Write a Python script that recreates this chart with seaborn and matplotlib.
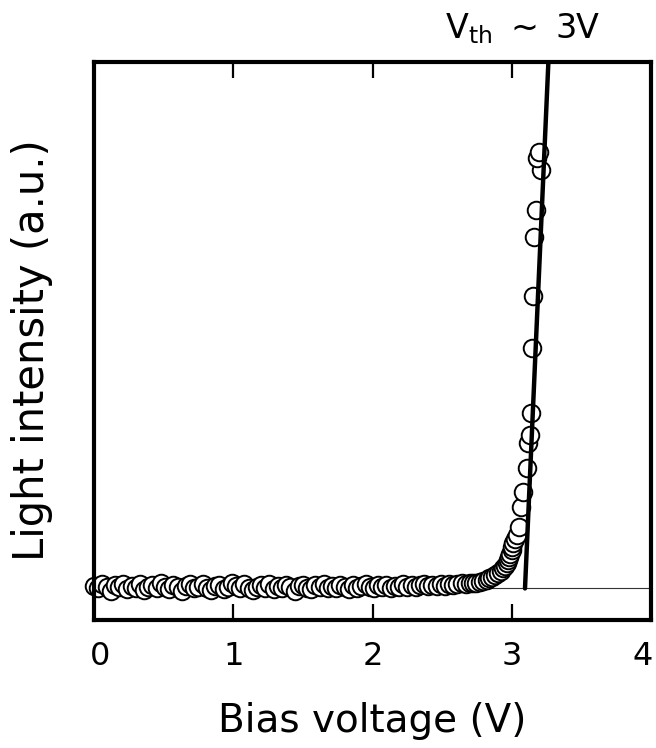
import matplotlib
matplotlib.use("Agg")
import matplotlib.pyplot as plt
import matplotlib.transforms as mtransforms
import seaborn as sns
import pandas as pd

# Bias sweep below threshold (V) and measured light intensity (a.u.)
bias_low = [
    0.00, 0.03, 0.06, 0.09, 0.12, 0.15, 0.18, 0.21, 0.24, 0.27,
    0.30, 0.33, 0.36, 0.39, 0.42, 0.45, 0.48, 0.51, 0.54, 0.57,
    0.60, 0.63, 0.66, 0.69, 0.72, 0.75, 0.78, 0.81, 0.84, 0.87,
    0.90, 0.93, 0.96, 0.99, 1.02, 1.05, 1.08, 1.11, 1.14, 1.17,
    1.20, 1.23, 1.26, 1.29, 1.32, 1.35, 1.38, 1.41, 1.44, 1.47,
    1.50, 1.53, 1.56, 1.59, 1.62, 1.65, 1.68, 1.71, 1.74, 1.77,
    1.80, 1.83, 1.86, 1.89, 1.92, 1.95, 1.98, 2.01, 2.04, 2.07,
    2.10, 2.13, 2.16, 2.19, 2.22, 2.25, 2.28, 2.31, 2.34, 2.37,
    2.40, 2.43, 2.46, 2.49, 2.52, 2.55, 2.58, 2.61, 2.64, 2.67,
    2.70,
]
light_low = [
    0.05, 0.00, 0.08, 0.02, -0.04, 0.06, 0.03, 0.09, -0.02, 0.05,
    0.01, 0.08, -0.03, 0.03, 0.07, 0.00, 0.10, 0.03, -0.02, 0.06,
    0.02, -0.04, 0.05, 0.08, 0.00, 0.03, 0.09, 0.01, -0.03, 0.05,
    0.07, -0.01, 0.03, 0.10, 0.04, 0.00, 0.08, 0.01, -0.03, 0.03,
    0.06, 0.01, 0.09, -0.02, 0.05, 0.00, 0.06, 0.02, -0.04, 0.04,
    0.07, 0.01, -0.02, 0.06, 0.02, 0.08, 0.00, 0.05, 0.01, 0.07,
    0.03, -0.02, 0.06, 0.01, 0.04, 0.08, 0.02, 0.00, 0.06, 0.03,
    0.07, 0.01, 0.05, 0.02, 0.08, 0.03, 0.07, 0.02, 0.06, 0.09,
    0.04, 0.07, 0.05, 0.08, 0.05, 0.09, 0.06, 0.08, 0.10, 0.08,
    0.10,
]

# Turn-on region
bias_high = [
    2.72, 2.74, 2.77, 2.79, 2.82, 2.84, 2.86, 2.88, 2.90, 2.92,
    2.94, 2.95, 2.963, 2.97, 2.982, 2.99, 2.999, 3.005, 3.010, 3.02,
    3.035, 3.054, 3.066, 3.082, 3.107, 3.119, 3.131, 3.140, 3.147, 3.155,
    3.162, 3.172, 3.208, 3.183, 3.198,
]
light_high = [
    0.10, 0.11, 0.13, 0.14, 0.16, 0.19, 0.22, 0.25, 0.29, 0.34,
    0.39, 0.43, 0.48, 0.54, 0.60, 0.66, 0.73, 0.79, 0.86, 0.93,
    1.01, 1.17, 1.55, 1.84, 2.28, 2.76, 2.91, 3.34, 4.56, 5.56,
    6.67, 7.19, 7.95, 8.17, 8.30,
]

# Linear extrapolation of the emission onset
fit_bias = [3.095, 3.263]
fit_light = [0.0, 10.0]

x_ticks = [0, 1, 2, 3, 4]
x_ticklabels = ["0", "1", "2", "3", "4"]

df = pd.DataFrame({
    "bias": bias_low + bias_high,
    "light": light_low + light_high,
})
fit = pd.DataFrame({"bias": fit_bias, "light": fit_light})

sns.set_style("white")
plt.rcParams["font.family"] = ["DejaVu Sans"]
plt.rcParams["mathtext.fontset"] = "dejavusans"
plt.rcParams["text.color"] = "black"
plt.rcParams["axes.labelcolor"] = "black"
plt.rcParams["xtick.color"] = "black"
plt.rcParams["ytick.color"] = "black"

fig = plt.figure(figsize=(6.56, 7.48), dpi=100)
ax = fig.add_axes([0.1433, 0.1711, 0.8491, 0.7460])

# zero-intensity reference line
ax.axhline(0, color="#333333", lw=0.8, zorder=1)

sns.scatterplot(data=df, x="bias", y="light", ax=ax, marker="o", s=160,
                facecolor="white", edgecolor="black", linewidth=1.4,
                zorder=2, clip_on=False, legend=False)

sns.lineplot(data=fit, x="bias", y="light", ax=ax, color="black", lw=3.2,
             sort=False, zorder=3, estimator=None)

ax.set_xlim(0, 4)
ax.set_ylim(-0.6, 10)

ax.set_xticks(x_ticks)
ax.set_xticklabels(x_ticklabels)
ax.set_yticks([])
ax.tick_params(axis="x", which="both", direction="in", top=True, bottom=True,
               length=11.5, width=1.6, pad=15, labelsize=23,
               color="black", labelcolor="black")

# nudge the end labels inward
for lab, dx in ((ax.get_xticklabels()[0], 6), (ax.get_xticklabels()[-1], -8)):
    lab.set_transform(lab.get_transform() +
                      mtransforms.ScaledTranslation(dx / 100, 0, fig.dpi_scale_trans))

for sp in ax.spines.values():
    sp.set_visible(True)
    sp.set_linewidth(3.0)
    sp.set_color("black")

ax.set_xlabel("Bias voltage (V)", fontsize=28, labelpad=22)
ax.set_ylabel("Light intensity (a.u.)", fontsize=30)
ax.yaxis.set_label_coords(-0.074, 0.484)

ax.text(0.77, 1.06, r"V$_{\rm th}$ $\sim$ 3V", transform=ax.transAxes,
        ha="center", va="center", fontsize=24, color="black")

fig.savefig("out.png", dpi=100)
